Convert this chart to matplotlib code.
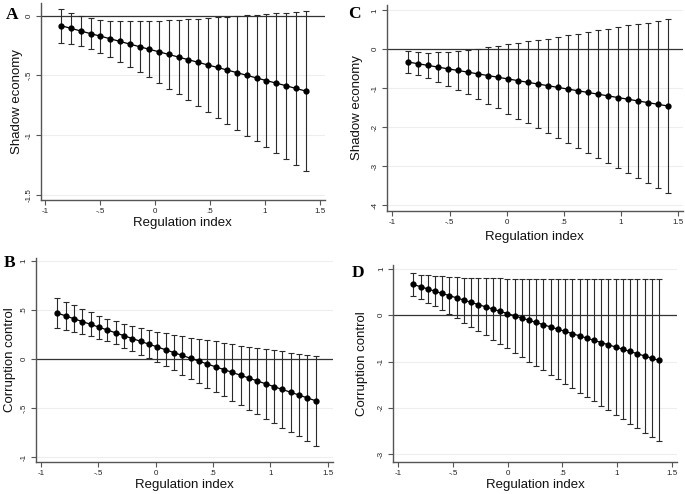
import numpy as np
import matplotlib.pyplot as plt

plt.rcParams['font.family'] = ['Liberation Sans', 'DejaVu Sans']

# ---- panel A: shadow economy (model 1)
xa = [-0.851, -0.762, -0.674, -0.585, -0.496, -0.407, -0.319, -0.230, -0.141, -0.052,
      0.037, 0.125, 0.214, 0.303, 0.392, 0.480, 0.569, 0.658, 0.747, 0.836,
      0.924, 1.013, 1.102, 1.191, 1.279, 1.368]
est_a = [-0.084, -0.106, -0.128, -0.150, -0.171, -0.193, -0.215, -0.237, -0.259, -0.281,
         -0.302, -0.324, -0.346, -0.368, -0.390, -0.412, -0.433, -0.455, -0.477, -0.499,
         -0.521, -0.543, -0.564, -0.586, -0.608, -0.630]
lo_a = [-0.226, -0.237, -0.256, -0.282, -0.309, -0.346, -0.385, -0.427, -0.471, -0.516,
        -0.560, -0.611, -0.658, -0.705, -0.755, -0.806, -0.853, -0.903, -0.953, -1.003,
        -1.051, -1.101, -1.151, -1.199, -1.246, -1.299]
hi_a = [0.056, 0.026, 0.000, -0.020, -0.033, -0.041, -0.046, -0.047, -0.047, -0.046,
        -0.043, -0.038, -0.034, -0.030, -0.025, -0.018, -0.012, -0.007, 0.000, 0.005,
        0.010, 0.016, 0.022, 0.027, 0.031, 0.038]

# ---- panel C: shadow economy (model 2)
xc = [-0.866, -0.779, -0.691, -0.604, -0.516, -0.429, -0.341, -0.254, -0.166, -0.079,
      0.009, 0.096, 0.184, 0.271, 0.359, 0.446, 0.534, 0.621, 0.709, 0.796,
      0.884, 0.971, 1.059, 1.146, 1.234, 1.321, 1.409]
est_c = [-0.325, -0.368, -0.412, -0.455, -0.499, -0.542, -0.585, -0.629, -0.672, -0.715,
         -0.759, -0.802, -0.846, -0.889, -0.932, -0.976, -1.019, -1.062, -1.106, -1.149,
         -1.193, -1.236, -1.279, -1.323, -1.366, -1.410, -1.453]
lo_c = [-0.607, -0.659, -0.739, -0.833, -0.930, -1.033, -1.153, -1.275, -1.395, -1.515,
        -1.646, -1.775, -1.897, -2.017, -2.138, -2.268, -2.397, -2.526, -2.656, -2.785,
        -2.916, -3.036, -3.173, -3.296, -3.416, -3.555, -3.675]
hi_c = [-0.043, -0.077, -0.085, -0.077, -0.068, -0.051, -0.017, 0.017, 0.051, 0.085,
        0.128, 0.171, 0.205, 0.239, 0.274, 0.316, 0.359, 0.402, 0.444, 0.487,
        0.530, 0.564, 0.615, 0.650, 0.684, 0.735, 0.769]

# ---- panel B: corruption control (model 1)
xb = [-0.858, -0.785, -0.713, -0.640, -0.567, -0.495, -0.422, -0.349, -0.277, -0.204,
      -0.131, -0.058, 0.014, 0.087, 0.160, 0.232, 0.305, 0.378, 0.450, 0.523,
      0.596, 0.668, 0.741, 0.814, 0.886, 0.959, 1.032, 1.104, 1.177, 1.250,
      1.322, 1.395]
est_b = [0.469, 0.440, 0.411, 0.382, 0.354, 0.325, 0.296, 0.267, 0.238, 0.209,
         0.180, 0.151, 0.123, 0.094, 0.065, 0.036, 0.007, -0.022, -0.051, -0.080,
         -0.108, -0.137, -0.166, -0.195, -0.224, -0.253, -0.282, -0.311, -0.339, -0.368,
         -0.397, -0.426]
lo_b = [0.312, 0.295, 0.274, 0.254, 0.232, 0.208, 0.180, 0.150, 0.115, 0.081,
        0.044, 0.006, -0.033, -0.074, -0.115, -0.159, -0.204, -0.248, -0.292, -0.340,
        -0.379, -0.424, -0.468, -0.516, -0.564, -0.608, -0.656, -0.700, -0.743, -0.790,
        -0.838, -0.883]
hi_b = [0.626, 0.585, 0.548, 0.510, 0.476, 0.442, 0.412, 0.384, 0.361, 0.337,
        0.316, 0.296, 0.279, 0.262, 0.245, 0.231, 0.218, 0.204, 0.190, 0.180,
        0.163, 0.150, 0.136, 0.126, 0.116, 0.102, 0.092, 0.078, 0.065, 0.054,
        0.044, 0.031]

# ---- panel D: corruption control (model 2)
xd = [-0.864, -0.798, -0.732, -0.666, -0.600, -0.533, -0.467, -0.401, -0.335, -0.269,
      -0.203, -0.137, -0.071, -0.004, 0.062, 0.128, 0.194, 0.260, 0.326, 0.392,
      0.458, 0.525, 0.591, 0.657, 0.723, 0.789, 0.855, 0.921, 0.987, 1.054,
      1.120, 1.186, 1.252, 1.318, 1.384]
est_d = [0.665, 0.617, 0.569, 0.520, 0.472, 0.424, 0.376, 0.327, 0.279, 0.231,
         0.183, 0.134, 0.086, 0.038, -0.010, -0.059, -0.107, -0.155, -0.203, -0.252,
         -0.300, -0.348, -0.396, -0.445, -0.493, -0.541, -0.589, -0.637, -0.686, -0.734,
         -0.782, -0.830, -0.879, -0.927, -0.975]
lo_d = [0.410, 0.354, 0.273, 0.190, 0.104, 0.018, -0.068, -0.161, -0.252, -0.343,
        -0.434, -0.529, -0.623, -0.716, -0.810, -0.906, -1.000, -1.095, -1.190, -1.287,
        -1.382, -1.477, -1.572, -1.669, -1.764, -1.859, -1.955, -2.050, -2.148, -2.243,
        -2.339, -2.434, -2.532, -2.627, -2.723]
hi_d = [0.920, 0.880, 0.865, 0.850, 0.840, 0.830, 0.820, 0.815, 0.810, 0.805,
        0.800, 0.797, 0.795, 0.792, 0.790, 0.788, 0.786, 0.785, 0.784, 0.783,
        0.782, 0.781, 0.780, 0.779, 0.778, 0.777, 0.777, 0.776, 0.776, 0.775,
        0.775, 0.774, 0.774, 0.773, 0.773]

xticks = [-1, -0.5, 0, 0.5, 1, 1.5]
xticklabels = ['-1', '-.5', '0', '.5', '1', '1.5']

W, H = 685, 494
fig = plt.figure(figsize=(W / 100, H / 100), dpi=100)


def make_axes(l, r, t, b):
    return fig.add_axes([l / W, 1 - b / H, (r - l) / W, (b - t) / H])


panels = [
    # letter, x, est, lo, hi, px box, xlim, ylim, yticks, ylabels, ylab, letter pos, label offsets
    ('A', xa, est_a, lo_a, hi_a, (40.7, 325, 3.3, 200), (-1.039, 1.545), (-1.542, 0.104),
     [0, -0.5, -1, -1.5], ['0', '-.5', '-1', '-1.5'], 'Shadow economy', (12, 15), -0.085, -0.117),
    ('C', xc, est_c, lo_c, hi_c, (386.7, 683, 5, 210.7), (-1.05, 1.542), (-4.138, 1.136),
     [1, 0, -1, -2, -3, -4], ['1', '0', '-1', '-2', '-3', '-4'], 'Shadow economy', (354, 14), -0.100, -0.128),
    ('B', xb, est_b, lo_b, hi_b, (36, 333, 258, 461.7), (-1.044, 1.546), (-1.048, 1.031),
     [1, 0.5, 0, -0.5, -1], ['1', '.5', '0', '-.5', '-1'], 'Corruption control', (10, 263), -0.0875, -0.114),
    ('D', xd, est_d, lo_d, hi_d, (393.3, 676.7, 265, 461.7), (-1.047, 1.546), (-3.162, 1.086),
     [1, 0, -1, -2, -3], ['1', '0', '-1', '-2', '-3'], 'Corruption control', (358, 273), -0.110, -0.118),
]

for (letter, x, est, lo, hi, box, xlim, ylim, yt, ytl, ylab, lpos, ylx, xly) in panels:
    ax = make_axes(*box)
    est = np.array(est)
    yerr = [est - np.array(lo), np.array(hi) - est]

    for v in yt:
        if v != 0:
            ax.axhline(v, color='#eeeeee', lw=0.8, zorder=0)
    ax.axhline(0, color='#333333', lw=0.9, zorder=1)

    ax.errorbar(x, est, yerr=yerr, fmt='none', ecolor='#2a2a2a', elinewidth=0.8,
                capsize=2.2, capthick=0.8, zorder=2)
    ax.plot(x, est, color='black', lw=0.9, marker='o', markersize=3.5, zorder=3)

    ax.set_xlim(*xlim)
    ax.set_ylim(*ylim)
    ax.set_xticks(xticks)
    ax.set_xticklabels(xticklabels)
    ax.set_yticks(yt)
    ax.set_yticklabels(ytl, rotation=90, va='center')
    ax.tick_params(axis='both', length=3.5, width=0.8, color='#555555', labelsize=5.8,
                   pad=2.5, labelcolor='#222222')

    for s in ['top', 'right']:
        ax.spines[s].set_visible(False)
    for s in ['left', 'bottom']:
        ax.spines[s].set_color('#555555')
        ax.spines[s].set_linewidth(1.0)

    ax.text(0.5, xly, 'Regulation index', transform=ax.transAxes, ha='center', va='center',
            fontsize=9.5, color='#111111')
    ax.text(ylx, 0.5, ylab, transform=ax.transAxes, ha='center', va='center',
            rotation=90, fontsize=9.5, color='#111111')

    fig.text(lpos[0] / W, 1 - lpos[1] / H, letter, ha='center', va='center',
             fontsize=12.5, fontweight='bold', family='Liberation Serif')

fig.savefig('out.png', dpi=100)
